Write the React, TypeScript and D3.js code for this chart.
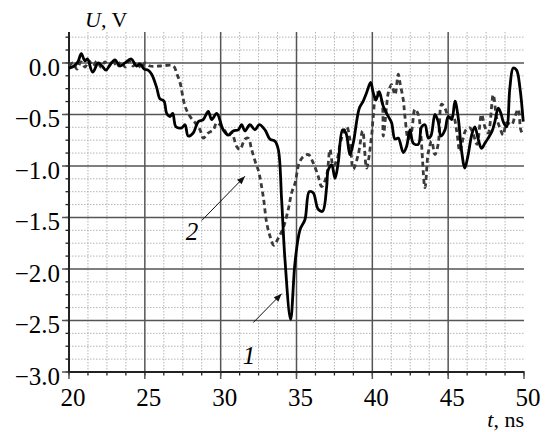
import React from 'react';
import * as d3 from 'd3';

// curve 1 (solid): [t, U]
const curve1: [number, number][] = [
  [20.0, -0.05], [20.33, -0.03], [20.59, 0.01], [20.81, 0.09], [21.05, 0.02], [21.21, 0.04],
  [21.56, -0.09], [21.93, 0.0], [22.18, -0.03], [22.44, -0.07], [22.7, -0.02], [23.03, 0.03],
  [23.36, -0.03], [23.69, 0.0], [24.09, 0.04], [24.46, -0.03], [24.68, -0.01], [24.96, -0.06],
  [25.21, -0.07], [25.45, -0.11], [25.78, -0.24], [26.0, -0.35], [26.26, -0.37], [26.44, -0.49],
  [26.66, -0.52], [26.84, -0.49], [27.05, -0.62], [27.43, -0.63], [27.65, -0.6], [27.86, -0.71],
  [28.19, -0.68], [28.52, -0.57], [28.85, -0.55], [29.18, -0.47], [29.41, -0.55], [29.74, -0.49],
  [30.17, -0.65], [30.5, -0.7], [30.83, -0.66], [31.16, -0.65], [31.38, -0.6], [31.6, -0.66],
  [31.93, -0.6], [32.26, -0.65], [32.54, -0.6], [32.92, -0.65], [33.25, -0.74], [33.58, -0.76],
  [33.8, -0.84], [34.02, -1.33], [34.24, -1.91], [34.61, -2.49], [34.9, -1.94], [35.23, -1.62],
  [35.56, -1.52], [35.84, -1.25], [36.1, -1.26], [36.43, -1.42], [36.72, -1.44], [36.99, -1.2],
  [37.09, -1.04], [37.32, -0.99], [37.54, -1.12], [37.75, -0.97], [38.04, -0.65], [38.26, -0.68],
  [38.52, -0.89], [38.74, -0.78], [39.14, -0.44], [39.4, -0.37], [39.62, -0.29], [39.89, -0.19],
  [40.06, -0.29], [40.24, -0.36], [40.45, -0.28], [40.72, -0.42], [41.05, -0.52], [41.27, -0.58],
  [41.49, -0.74], [41.71, -0.73], [42.04, -0.87], [42.26, -0.81], [42.48, -0.65], [42.7, -0.78],
  [43.03, -0.79], [43.25, -0.62], [43.47, -0.6], [43.69, -0.73], [43.86, -0.71], [44.13, -0.5],
  [44.34, -0.57], [44.52, -0.71], [44.79, -0.65], [45.0, -0.52], [45.23, -0.55], [45.45, -0.37],
  [45.66, -0.53], [45.89, -0.86], [46.1, -1.02], [46.32, -0.89], [46.55, -0.7], [46.76, -0.62],
  [46.98, -0.74], [47.2, -0.83], [47.42, -0.78], [47.64, -0.73], [47.9, -0.66], [48.08, -0.57],
  [48.3, -0.44], [48.48, -0.49], [48.63, -0.57], [48.85, -0.62], [49.07, -0.24], [49.29, -0.05],
  [49.51, -0.07], [49.73, -0.24], [49.95, -0.57],
];

// curve 2 (dashed): [t, U]
const curve2: [number, number][] = [
  [20.0, -0.03], [20.26, 0.0], [20.53, -0.06], [20.79, 0.01], [21.05, -0.04], [21.32, 0.02],
  [21.58, -0.03], [21.85, 0.02], [22.11, -0.04], [22.37, 0.01], [22.64, -0.03], [22.9, 0.03],
  [23.16, -0.04], [23.43, 0.01], [23.69, -0.04], [23.96, 0.02], [24.22, -0.03], [24.48, 0.01],
  [24.75, -0.05], [25.01, 0.0], [25.34, -0.03], [26.0, -0.03], [26.88, -0.03], [27.12, -0.11],
  [27.32, -0.19], [27.65, -0.42], [27.98, -0.52], [28.31, -0.58], [28.64, -0.65], [28.85, -0.73],
  [29.18, -0.68], [29.51, -0.65], [29.74, -0.58], [29.95, -0.6], [30.28, -0.66], [30.5, -0.71],
  [30.73, -0.68], [31.05, -0.81], [31.27, -0.84], [31.6, -0.74], [31.82, -0.73], [32.04, -0.84],
  [32.37, -1.0], [32.48, -1.04], [32.81, -1.3], [33.03, -1.55], [33.25, -1.68], [33.51, -1.77],
  [33.8, -1.7], [34.13, -1.6], [34.46, -1.42], [34.68, -1.26], [34.9, -1.17], [35.18, -0.97],
  [35.45, -0.91], [35.78, -0.89], [36.1, -0.97], [36.43, -1.1], [36.66, -1.2], [36.99, -1.09],
  [37.21, -0.84], [37.42, -1.0], [37.67, -0.94], [37.93, -0.75], [38.31, -0.62], [38.52, -0.74],
  [38.74, -1.03], [39.07, -0.89], [39.36, -0.66], [39.62, -1.02], [39.95, -0.71], [40.06, -0.52],
  [40.28, -0.29], [40.61, -0.36], [40.72, -0.71], [40.94, -0.42], [41.05, -0.29], [41.27, -0.21],
  [41.49, -0.31], [41.71, -0.11], [41.82, -0.19], [42.04, -0.36], [42.15, -0.52], [42.37, -0.74],
  [42.59, -0.66], [42.81, -0.45], [43.03, -0.5], [43.2, -0.7], [43.47, -1.21], [43.69, -0.87],
  [43.91, -0.76], [44.13, -0.89], [44.34, -0.79], [44.57, -0.4], [44.79, -0.44], [45.05, -0.53],
  [45.33, -0.52], [45.56, -0.66], [45.77, -0.86], [45.99, -0.73], [46.17, -0.65], [46.43, -0.63],
  [46.65, -0.69], [46.9, -0.79], [47.2, -0.5], [47.42, -0.62], [47.64, -0.68], [47.97, -0.31],
  [48.19, -0.53], [48.41, -0.63], [48.63, -0.7], [48.85, -0.58], [49.18, -0.6], [49.4, -0.52],
  [49.62, -0.45], [49.79, -0.65], [49.95, -0.7],
];

const xMajor = [20, 25, 30, 35, 40, 45, 50];
const yMajor = [0.0, -0.5, -1.0, -1.5, -2.0, -2.5, -3.0];
const xMinor = d3.range(0, 25).map(i => 20 + i * 1.25);
const yMinor = d3.range(0, 27).map(i => -3 + i * 0.125);

// annotations: label position and arrow [from, to], in data units
const notes = [
  { label: '2', at: [28.11, -1.72], from: [28.75, -1.53], to: [31.6, -1.1] },
  { label: '1', at: [31.87, -2.92], from: [32.15, -2.52], to: [34.02, -2.24] },
];

const W = 547, H = 432;
const left = 69, right = 524, top = 32, bottom = 372;
const serif = 'Liberation Serif';

export default function App() {
  const x = d3.scaleLinear().domain([20, 50]).range([left, right]);
  const y = d3.scaleLinear().domain([-3, 0.3]).range([bottom, top]);

  const line = d3.line<[number, number]>()
    .x(d => x(d[0]))
    .y(d => y(d[1]))
    .curve(d3.curveCatmullRom.alpha(0.5));

  const fmt = (v: number) => (v < 0 ? '\u2212' : '') + Math.abs(v).toFixed(1);

  return (
    <svg width={W} height={H} style={{ position: 'absolute', left: 0, top: 0, background: '#fff' }}>
      <defs>
        <marker id="arr" viewBox="0 0 10 10" refX="10" refY="5" markerWidth="10" markerHeight="8"
          markerUnits="userSpaceOnUse" orient="auto">
          <path d="M0,1 L10,5 L0,9 Z" fill="#111" />
        </marker>
      </defs>

      {/* minor grid */}
      <g stroke="#b4b4b4" strokeWidth={1} strokeDasharray="1.5,1.5">
        {xMinor.filter(v => v % 5 !== 0).map(v => (
          <line key={'xm' + v} x1={x(v)} x2={x(v)} y1={top} y2={bottom} />
        ))}
        {yMinor.filter(v => Math.abs(v * 2 - Math.round(v * 2)) > 1e-6).map(v => (
          <line key={'ym' + v} x1={left} x2={right} y1={y(v)} y2={y(v)} />
        ))}
      </g>

      {/* minor ticks */}
      <g stroke="#222" strokeWidth={1.3}>
        {xMinor.map(v => (
          <line key={'xt' + v} x1={x(v)} x2={x(v)} y1={bottom} y2={bottom + 3.5} />
        ))}
        {yMinor.map(v => (
          <line key={'yt' + v} x1={left - 3.5} x2={left} y1={y(v)} y2={y(v)} />
        ))}
      </g>

      {/* major grid */}
      <g stroke="#555" strokeWidth={1.5}>
        {xMajor.filter(v => v !== 20 && v !== 50).map(v => (
          <line key={'xg' + v} x1={x(v)} x2={x(v)} y1={top} y2={bottom + 7} />
        ))}
        {yMajor.filter(v => v !== -3).map(v => (
          <line key={'yg' + v} x1={left - 7} x2={right} y1={y(v)} y2={y(v)} />
        ))}
        <line x1={x(20)} x2={x(20)} y1={bottom} y2={bottom + 7} />
        <line x1={x(50)} x2={x(50)} y1={bottom - 1} y2={bottom + 7} />
        <line x1={left - 7} x2={left} y1={y(-3)} y2={y(-3)} />
      </g>

      {/* axes */}
      <g stroke="#222" strokeWidth={2}>
        <line x1={left} x2={left} y1={top} y2={bottom + 1} />
        <line x1={left} x2={right} y1={bottom} y2={bottom} />
      </g>

      {/* tick labels */}
      {xMajor.map(v => (
        <text key={'xl' + v} x={x(v) + 4} y={406} textAnchor="middle"
          fontFamily={serif} fontSize={25} fill="#000">{v}</text>
      ))}
      {yMajor.map(v => (
        <text key={'yl' + v} x={60} y={y(v) + 13} textAnchor="end"
          fontFamily={serif} fontSize={25} fill="#000">{fmt(v)}</text>
      ))}

      {/* axis titles */}
      <text x={85} y={27} fontFamily={serif} fontSize={22}>
        <tspan fontStyle="italic">U</tspan>, V
      </text>
      <text x={right} y={427} fontFamily={serif} fontSize={22} textAnchor="end">
        <tspan fontStyle="italic">t</tspan>, ns
      </text>

      {/* curves */}
      <path d={line(curve2) || ''} fill="none" stroke="#3a3a3a" strokeWidth={2.8} strokeDasharray="5,3.5" />
      <path d={line(curve1) || ''} fill="none" stroke="#000" strokeWidth={2.8} strokeLinejoin="round" />

      {/* annotations */}
      {notes.map(n => (
        <g key={n.label}>
          <line x1={x(n.from[0])} y1={y(n.from[1])} x2={x(n.to[0])} y2={y(n.to[1])}
            stroke="#111" strokeWidth={1} markerEnd="url(#arr)" />
          <text x={x(n.at[0])} y={y(n.at[1])} fontFamily={serif} fontSize={25}
            fontStyle="italic" textAnchor="middle">{n.label}</text>
        </g>
      ))}
    </svg>
  );
}
